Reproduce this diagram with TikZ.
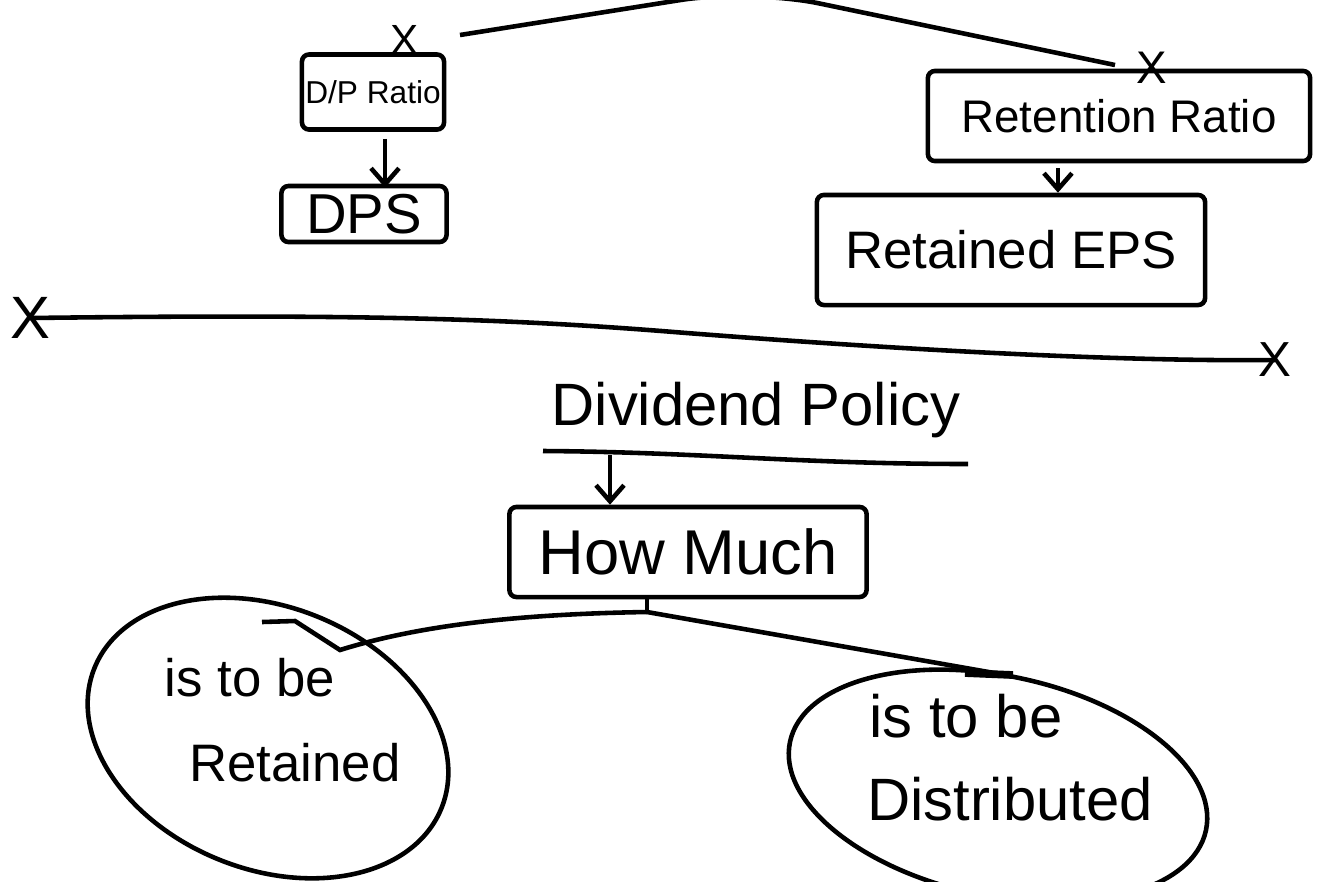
\documentclass[tikz,border=0pt]{standalone}
\usepackage{fontspec}
\setmainfont{Liberation Sans}
\usetikzlibrary{shapes.geometric,arrows.meta}
\begin{document}
\begin{tikzpicture}[x=0.01cm,y=-0.01cm,line width=1.3pt,
  box/.style={draw,rounded corners=2pt,inner sep=0pt},
  blob/.style={draw,ellipse,inner sep=0pt},
  cross/.style={inner sep=0pt},
  arr/.style={-{Straight Barb[length=1.6mm,width=2.8mm]}}]
\useasboundingbox (0,0) rectangle (1321,881);
\clip (0,0) rectangle (1321,881);
\fill[white] (0,0) rectangle (1321,881);

\node[box,minimum width=1.42cm,minimum height=0.75cm,font=\fontsize{9}{11}\selectfont] (dpr) at (373,92) {D/P Ratio};
\node[box,minimum width=1.65cm,minimum height=0.56cm,font=\fontsize{16}{18}\selectfont] (dps) at (364,214) {DPS};
\node[box,minimum width=3.82cm,minimum height=0.9cm,font=\fontsize{13}{15}\selectfont] (ret) at (1119,116) {Retention Ratio};
\node[box,minimum width=3.88cm,minimum height=1.1cm,font=\fontsize{15}{17}\selectfont] (reps) at (1011,250) {Retained EPS};
\draw[arr] ([xshift=1.2mm,yshift=-0.7mm]dpr.south) -- ([xshift=1.2mm,yshift=-0.4mm]dpr.south |- dps.north);
\draw[arr] ([xshift=-6.1mm,yshift=-0.5mm]ret.south) -- ([xshift=-6.1mm]ret.south |- reps.north);

\node[cross,font=\fontsize{12}{12}\selectfont] (xa) at (405,40) {X};
\node[cross,font=\fontsize{13}{13}\selectfont] (xb) at (1152,68) {X};
\node[cross,font=\fontsize{17}{17}\selectfont] (xc) at (30,318) {X};
\node[cross,font=\fontsize{14}{14}\selectfont] (xd) at (1275,360) {X};
\coordinate (tl) at (460,35);
\coordinate (tr) at (1115,65);
\draw[rounded corners=20pt] (tl) -- (750,-11) -- (tr);
\draw (xc.center) .. controls (350,314) and (500,318) .. (674,332)
  .. controls (850,346) and (1100,362) .. (xd.center);

\node[font=\fontsize{17}{19}\selectfont] (dp) at (756,410) {Dividend Policy};
\coordinate (ul) at (543,451);
\coordinate (ur) at (968,464);
\draw (ul) .. controls (700,452) and (800,464) .. (ur);
\node[box,minimum width=3.57cm,minimum height=0.9cm,font=\fontsize{18}{20}\selectfont] (how) at (688,552) {How Much};
\coordinate (hd) at (610,455);
\draw[arr] (hd) -- (hd |- how.north);

\node[blob,minimum width=3.74cm,minimum height=2.62cm,rotate=-22] (kept) at (268,738) {};
\node[font=\fontsize{15}{17}\selectfont] (keptA) at (250,678) {is to be};
\node[font=\fontsize{15}{17}\selectfont] (keptB) at (295,763) {Retained};
\node[blob,minimum width=4.25cm,minimum height=2.2cm,rotate=-12] (paid) at (998,786) {};
\node[font=\fontsize{17}{19}\selectfont] (paidA) at (966,716) {is to be};
\node[font=\fontsize{17}{19}\selectfont] (paidB) at (1010,799) {Distributed};

\coordinate (sp) at (647,612);
\coordinate (keptend) at (340,650);
\coordinate (paidend) at (1000,674);
\draw (how.south -| sp) -- (sp);
\draw (sp) .. controls (520,614) and (420,625) .. (keptend) -- (295,621) -- (262,622);
\draw (sp) -- (paidend);
\draw[line width=2.2pt] (965,673) -- (1013,675);
\end{tikzpicture}
\end{document}
